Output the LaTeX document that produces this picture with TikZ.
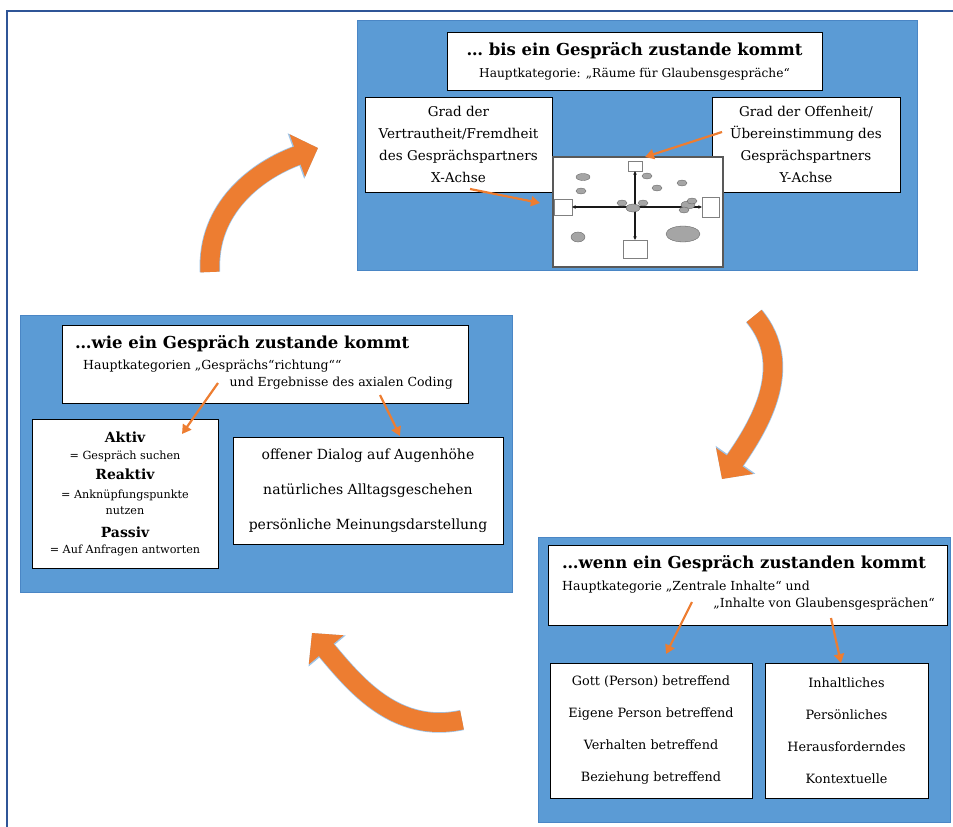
\documentclass[tikz,border=0pt]{standalone}
\usepackage{fontspec}
\setmainfont{DejaVu Serif}
\usetikzlibrary{arrows.meta,positioning}
\definecolor{panelblue}{HTML}{5B9BD5}
\definecolor{paneledge}{HTML}{4A86C5}
\definecolor{frameblue}{HTML}{2F5597}
\definecolor{loudorange}{HTML}{ED7D31}
\definecolor{arrowedge}{HTML}{9DC3E6}
\definecolor{blobgray}{HTML}{A5A5A5}
\tikzset{
    panel/.style = {fill=panelblue, draw=paneledge, line width=0.6pt, rectangle, inner sep=0pt, anchor=north west},
    white-box/.style = {draw=black, fill=white, line width=1pt, rectangle, inner sep=0pt, align=center},
    head-text/.style = {font=\bfseries\fontsize{16.5}{18}\selectfont, inner sep=0pt},
    sub-text/.style = {font=\fontsize{12.5}{14}\selectfont, inner sep=0pt},
    pointer/.style = {draw=loudorange, line width=2.2pt, -{Triangle[length=9pt,width=10pt]}},
    cycle-arrow/.style = {draw=loudorange, line width=19pt, -{Triangle[length=22pt,width=44pt]},
        preaction={draw=arrowedge, line width=20.5pt, -{Triangle[length=23.5pt,width=47pt]}}},
    chart-blob/.style = {fill=blobgray, draw=gray!70!black, line width=0.3pt},
    chart-label/.style = {draw=gray, fill=white, line width=0.4pt, inner sep=0pt},
    chart-axis/.style = {draw=gray!20!black, line width=1.1pt, {Stealth[length=3.5pt,width=3.5pt]}-{Stealth[length=3.5pt,width=3.5pt]}},
}
\begin{document}
\begin{tikzpicture}[x=1pt, y=1pt]
\useasboundingbox (0,0) rectangle (953,-827);
\draw[frameblue, line width=1.2pt] (7,-827) |- (953,-11);

% ... bis
\node[panel, minimum width=560pt, minimum height=250pt] (bis-panel) at (357,-20) {};
\node[white-box, minimum width=375pt, minimum height=58pt, font=\fontsize{12.2}{22}\selectfont] (bis-head) at (634.5,-61)
    {{\bfseries\fontsize{16.5}{22}\selectfont … bis ein Gespräch zustande kommt}\\ Hauptkategorie: „Räume für Glaubensgespräche“};
\node[white-box, minimum width=187pt, minimum height=95pt, font=\fontsize{13.5}{21.7}\selectfont] (x-axis-box) at (458.5,-144.5)
    {Grad der\\ Vertrautheit/Fremdheit\\ des Gesprächspartners\\ X-Achse};
\node[white-box, minimum width=188pt, minimum height=95pt, font=\fontsize{13.5}{21.7}\selectfont] (y-axis-box) at (806,-144.5)
    {Grad der Offenheit/\\ Übereinstimmung des\\ Gesprächspartners\\ Y-Achse};
\node[draw=gray!70!black, fill=white, line width=1.5pt, minimum width=170pt, minimum height=110pt] (chart) at (638,-212) {};
\node[chart-label, minimum width=14pt, minimum height=10pt] (axis-top) at (635,-166) {};
\node[chart-label, minimum width=18pt, minimum height=16pt] (axis-left) at (563,-207) {};
\node[chart-label, minimum width=17pt, minimum height=20pt] (axis-right) at (710.5,-207) {};
\node[chart-label, minimum width=24pt, minimum height=18pt] (axis-bottom) at (635,-249) {};
\draw[chart-axis] (axis-top) -- (axis-bottom);
\draw[chart-axis] (axis-left) -- (axis-right);
\foreach \bx/\by/\rx/\ry in {583/177/7/3.5, 581/191/5/3, 647/176/5/3, 657/188/5/3, 682/183/5/3, 622/203/5/3,
    643/203/5/3, 633/208/7/4, 688/205/7/4, 692/201/5/3, 684/210/5/3, 578/237/7/5, 683/234/17/8}
    \draw[chart-blob] (\bx,-\by) ellipse [x radius=\rx, y radius=\ry];
\coordinate (x-ptr-from) at (470,-189);
\coordinate (x-ptr-to) at (540,-203);
\coordinate (y-ptr-from) at (722,-132);
\coordinate (y-ptr-to) at (645,-157);
\draw[pointer] (x-ptr-from) -- (x-ptr-to);
\draw[pointer] (y-ptr-from) -- (y-ptr-to);

% ... wie
\node[panel, minimum width=492pt, minimum height=277pt] (wie-panel) at (20,-315) {};
\node[white-box, minimum width=406pt, minimum height=78pt] (wie-head) at (265,-364) {};
\node[head-text, anchor=west] (wie-title) at (75,-344) {…wie ein Gespräch zustande kommt};
\node[sub-text, anchor=west] (wie-sub-a) at (83,-366) {Hauptkategorien „Gesprächs“richtung““};
\node[sub-text, anchor=east] (wie-sub-b) at (453,-383) {und Ergebnisse des axialen Coding};
\node[white-box, minimum width=186pt, minimum height=149pt, font=\fontsize{11.2}{17}\selectfont] (modes-box) at (125,-493.5)
    {{\bfseries\fontsize{14}{17}\selectfont Aktiv}\\ = Gespräch suchen\\[3pt]
     {\bfseries\fontsize{14}{17}\selectfont Reaktiv}\\[2pt] = Anknüpfungspunkte\\[-1pt] nutzen\\[6pt]
     {\bfseries\fontsize{14}{17}\selectfont Passiv}\\[-1pt] = Auf Anfragen antworten};
\node[white-box, minimum width=270pt, minimum height=107pt, font=\fontsize{14}{35}\selectfont] (dialog-box) at (368,-490.5)
    {offener Dialog auf Augenhöhe\\ natürliches Alltagsgeschehen\\ persönliche Meinungsdarstellung};
\coordinate (modes-ptr-from) at (218,-383);
\coordinate (modes-ptr-to) at (182,-434);
\coordinate (dialog-ptr-from) at (380,-395);
\coordinate (dialog-ptr-to) at (400,-436);
\draw[pointer] (modes-ptr-from) -- (modes-ptr-to);
\draw[pointer] (dialog-ptr-from) -- (dialog-ptr-to);

% ... wenn
\node[panel, minimum width=412pt, minimum height=285pt] (wenn-panel) at (538,-537) {};
\node[white-box, minimum width=399pt, minimum height=80pt] (wenn-head) at (747.5,-585) {};
\node[head-text, anchor=west] (wenn-title) at (562,-564) {…wenn ein Gespräch zustanden kommt};
\node[sub-text, anchor=west] (wenn-sub-a) at (562,-587) {Hauptkategorie „Zentrale Inhalte“ und};
\node[sub-text, anchor=east] (wenn-sub-b) at (935,-604) {„Inhalte von Glaubensgesprächen“};
\node[white-box, minimum width=202pt, minimum height=135pt, font=\fontsize{12.8}{32}\selectfont] (topics-box) at (651,-730.5)
    {Gott (Person) betreffend\\ Eigene Person betreffend\\ Verhalten betreffend\\ Beziehung betreffend};
\node[white-box, minimum width=163pt, minimum height=135pt, font=\fontsize{12.8}{32}\selectfont] (content-box) at (846.5,-730.5)
    {Inhaltliches\\ Persönliches\\ Herausforderndes\\ Kontextuelle};
\coordinate (topics-ptr-from) at (692,-602);
\coordinate (topics-ptr-to) at (666,-654);
\coordinate (content-ptr-from) at (831,-618);
\coordinate (content-ptr-to) at (841,-663);
\draw[pointer] (topics-ptr-from) -- (topics-ptr-to);
\draw[pointer] (content-ptr-from) -- (content-ptr-to);

% cycle
\coordinate (loop-a-start) at (210,-272);
\coordinate (loop-a-tip) at (318,-148);
\coordinate (loop-b-start) at (754,-316);
\coordinate (loop-b-tip) at (722,-479);
\coordinate (loop-c-start) at (462,-720);
\coordinate (loop-c-tip) at (312,-633);
\draw[cycle-arrow] (loop-a-start) to[out=93, in=200] (loop-a-tip);
\draw[cycle-arrow] (loop-b-start) to[out=-50, in=55] (loop-b-tip);
\draw[cycle-arrow] (loop-c-start) to[out=192, in=310] (loop-c-tip);
\end{tikzpicture}
\end{document}
